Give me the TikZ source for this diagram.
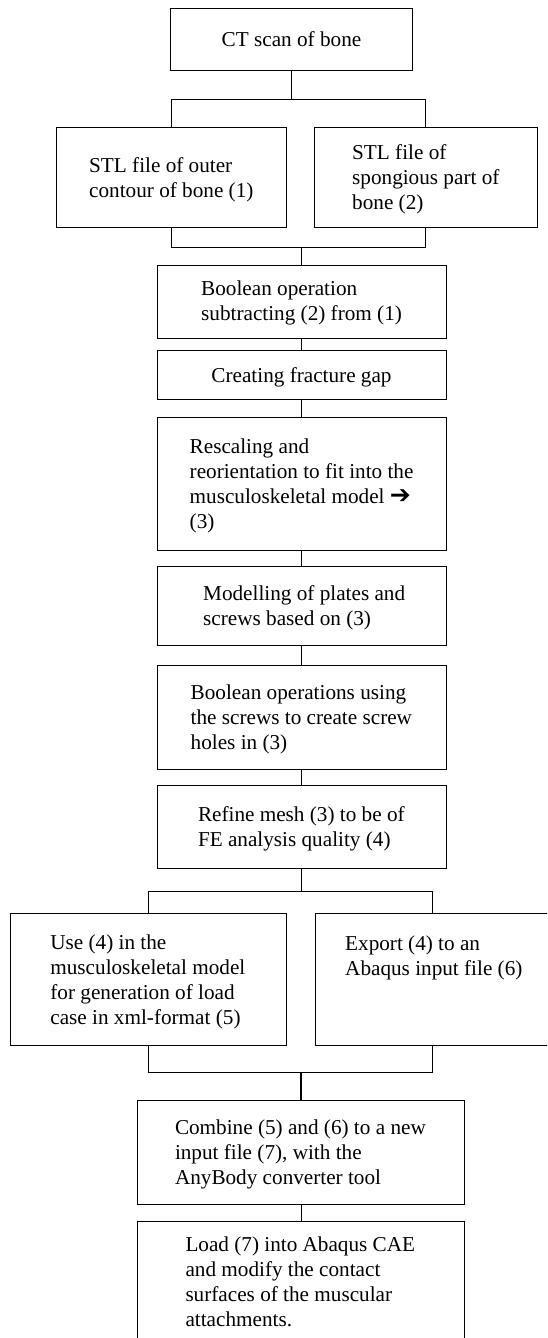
\documentclass[tikz,border=0pt]{standalone}
\usepackage{fontspec}
\setmainfont{Liberation Serif}
\newfontfamily\arrowfont{DejaVu Sans}
\newcommand{\mlines}[1]{\begin{tabular}[t]{@{}l@{}}#1\end{tabular}}
\begin{document}
\begin{tikzpicture}[x=1pt,y=-1pt,
  box/.style={draw, line width=1pt, inner sep=0pt},
  txt/.style={inner sep=0pt, anchor=base west, font=\fontsize{21.2}{25}\selectfont},
  ctxt/.style={inner sep=0pt, anchor=base, font=\fontsize{21.2}{25}\selectfont},
  conn/.style={line width=1pt},
  thickconn/.style={line width=1.6pt}]
\useasboundingbox (0,0) rectangle (547,1338);
\fill[white] (0,0) rectangle (547,1338);
\clip (0,0) rectangle (547,1338);

% boxes
\node[box, minimum width=241.8pt, minimum height=62pt] (ct) at (291.5,40) {};
\node[box, minimum width=230.3pt, minimum height=100pt] (stl1) at (171.7,177) {};
\node[box, minimum width=223pt, minimum height=100pt] (stl2) at (425.5,177) {};
\node[box, minimum width=288.5pt, minimum height=73pt] (bool1) at (301.8,301.5) {};
\node[box, minimum width=288.5pt, minimum height=49pt] (gap) at (301.8,374.5) {};
\node[box, minimum width=288.5pt, minimum height=133pt] (resc) at (301.8,483.5) {};
\node[box, minimum width=288.5pt, minimum height=79pt] (model) at (301.8,605.5) {};
\node[box, minimum width=288.5pt, minimum height=104pt] (holes) at (301.8,717) {};
\node[box, minimum width=288.5pt, minimum height=83pt] (refine) at (301.8,826.5) {};
\node[box, minimum width=276.3pt, minimum height=132pt] (use) at (148.6,979.5) {};
\node[box, minimum width=234pt, minimum height=132pt] (export) at (432,979.5) {};
\node[box, minimum width=327.7pt, minimum height=104pt] (comb) at (301,1152) {};
\node[box, minimum width=327.7pt, minimum height=139pt] (load) at (301,1290.5) {};

% texts
\node[ctxt] (tct) at (291.5,47) {CT scan of bone};
\node[txt] (tstl1) at (89,172) {\mlines{STL file of outer\\contour of bone (1)}};
\node[txt] (tstl2) at (352,159) {\mlines{STL file of\\spongious part of\\bone (2)}};
\node[txt] (tbool1) at (201,295.5) {\mlines{Boolean operation\\subtracting (2) from (1)}};
\node[ctxt] (tgap) at (301.5,382) {Creating fracture gap};
\node[txt] (tresc) at (189.5,453) {\mlines{Rescaling and\\reorientation to fit into the\\musculoskeletal model {\arrowfont\fontsize{25}{25}\selectfont ➔}\\(3)}};
\node[txt] (tmodel) at (203,600) {\mlines{Modelling of plates and\\screws based on (3)}};
\node[txt] (tholes) at (190.5,699) {\mlines{Boolean operations using\\the screws to create screw\\holes in (3)}};
\node[txt] (trefine) at (197.8,821) {\mlines{Refine mesh (3) to be of\\FE analysis quality (4)}};
\node[txt] (tuse) at (50.2,949) {\mlines{Use (4) in the\\musculoskeletal model\\for generation of load\\case in xml-format (5)}};
\node[txt] (texport) at (345,950) {\mlines{Export (4) to an\\Abaqus input file (6)}};
\node[txt] (tcomb) at (174.8,1134) {\mlines{Combine (5) and (6) to a new\\input file (7), with the\\AnyBody converter tool}};
\node[txt] (tload) at (185.3,1251) {\mlines{Load (7) into Abaqus CAE\\and modify the contact\\surfaces of the muscular\\attachments.}};

% connectors
\coordinate (j1) at (291.5,99);
\coordinate (l1) at (171.7,99);
\coordinate (r1) at (425.5,99);
\draw[thickconn] (ct.south) -- (j1);
\draw[conn] (l1) -- (r1);
\draw[conn] (l1) -- (stl1.north);
\draw[conn] (r1) -- (stl2.north);

\coordinate (l2) at (171.7,247);
\coordinate (r2) at (425.5,247);
\coordinate (j2) at (301.8,247);
\draw[conn] (stl1.south) -- (l2) -- (r2) -- (stl2.south);
\draw[conn] (j2) -- (bool1.north);

\draw[conn] (bool1.south) -- (gap.north);
\draw[conn] (gap.south) -- (resc.north);
\draw[conn] (resc.south) -- (model.north);
\draw[conn] (model.south) -- (holes.north);
\draw[conn] (holes.south) -- (refine.north);

\coordinate (j3) at (301.8,891);
\coordinate (l3) at (148.6,891);
\coordinate (r3) at (432,891);
\draw[conn] (refine.south) -- (j3);
\draw[conn] (l3) -- (r3);
\draw[conn] (l3) -- (use.north);
\draw[conn] (r3) -- (export.north);

\coordinate (l4) at (148.6,1072);
\coordinate (r4) at (432,1072);
\coordinate (j4) at (301,1072);
\draw[conn] (use.south) -- (l4) -- (r4) -- (export.south);
\draw[thickconn] (j4) -- (comb.north);
\draw[conn] (comb.south) -- (load.north);
\end{tikzpicture}
\end{document}
